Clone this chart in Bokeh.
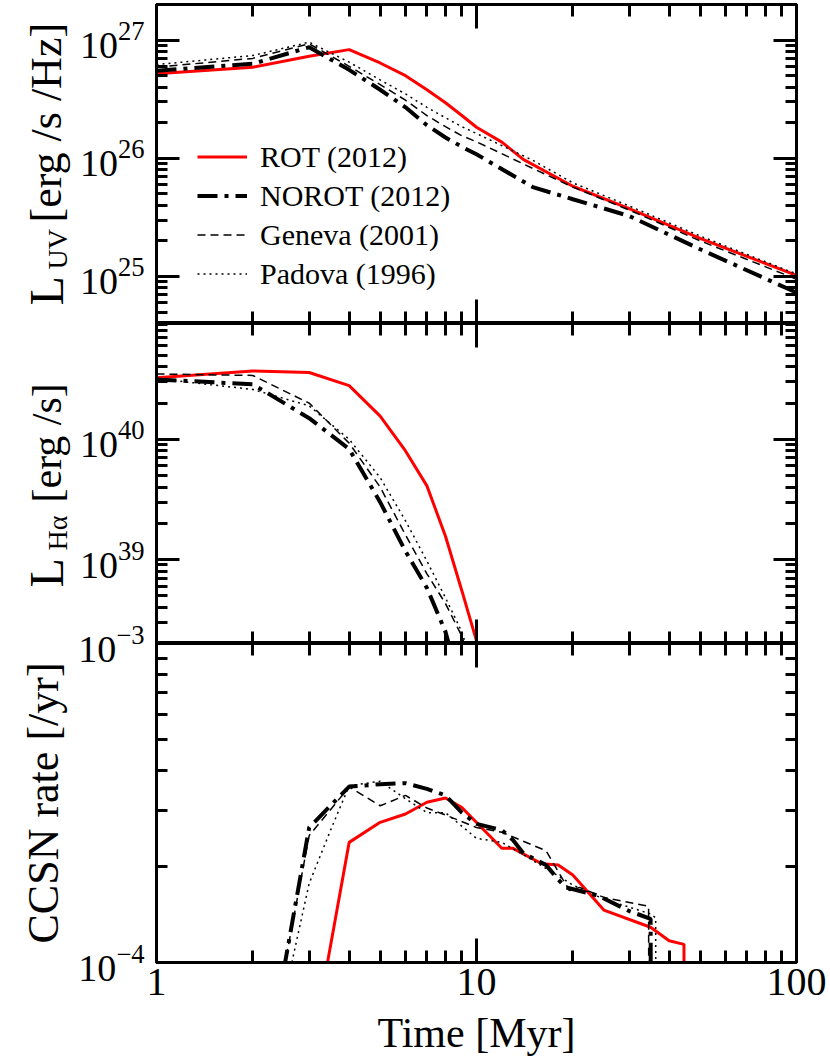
import math
from bokeh.plotting import figure
from bokeh.layouts import column, row
from bokeh.models import (FixedTicker, LogAxis, LogTickFormatter, BasicTickFormatter,
                          CustomJSTickFormatter, Legend, LegendItem, Range1d)
from bokeh.core.properties import value
from bokeh.embed import file_html
from bokeh.resources import INLINE

# ---------------- data ----------------
series_names = ["ROT (2012)", "NOROT (2012)", "Geneva (2001)", "Padova (1996)"]

# UV luminosity [erg/s/Hz]
t_uv_rot = [1, 2, 3, 4, 5, 6, 7, 8, 9, 10, 12, 14, 20, 30, 50, 100]
uv_rot = [5.2e26, 5.9e26, 7.3e26, 8.3e26, 6.4e26, 5.0e26, 3.8e26, 2.95e26, 2.3e26,
          1.83e26, 1.37e26, 9.8e25, 5.8e25, 3.75e25, 2.1e25, 1.02e25]
t_uv_oth = [1, 2, 3, 4, 5, 6, 7, 8, 9, 10, 15, 20, 30, 50, 100]
uv_norot = [5.5e26, 6.3e26, 8.7e26, 5.6e26, 3.8e26, 2.7e26, 1.9e26, 1.5e26, 1.25e26,
            1.08e26, 5.7e25, 4.5e25, 3.25e25, 1.7e25, 7.3e24]
uv_gen = [5.9e26, 7.0e26, 9.3e26, 6.0e26, 4.2e26, 3.1e26, 2.3e26, 1.85e26, 1.55e26,
          1.38e26, 8.2e25, 5.7e25, 3.65e25, 2.0e25, 9.5e24]
uv_pad = [6.2e26, 7.4e26, 9.6e26, 6.5e26, 4.6e26, 3.5e26, 2.7e26, 2.2e26, 1.85e26,
          1.62e26, 9.6e25, 6.2e25, 3.95e25, 2.2e25, 1.05e25]

# H-alpha luminosity [erg/s]
t_ha_rot = [1, 2, 3, 4, 5, 6, 7, 8, 9, 10, 11]
ha_rot = [3.25e40, 3.7e40, 3.6e40, 2.8e40, 1.56e40, 8.0e39, 4.1e39, 1.56e39, 5.5e38, 2.1e38, 3e37]
t_ha_norot = [1, 2, 3, 4, 5, 6, 7, 8, 9]
ha_norot = [3.15e40, 2.87e40, 1.5e40, 8.3e39, 3.0e39, 1.17e39, 5.8e38, 2.5e38, 8e37]
t_ha_oth = [1, 2, 3, 4, 5, 6, 7, 8, 9, 10]
ha_gen = [3.5e40, 3.4e40, 2.0e40, 9.3e39, 4.0e39, 1.6e39, 7.6e38, 4.3e38, 2.3e38, 9e37]
ha_pad = [3.2e40, 2.6e40, 1.9e40, 1.0e40, 4.8e39, 2.1e39, 9.7e38, 4.8e38, 2.5e38, 1e38]

# CCSN rate [/yr]
t_sn_rot = [3, 4, 5, 6, 7, 8, 9, 12, 13, 16, 18, 20, 25, 35, 40, 44.5, 45]
sn_rot = [4.8e-5, 2.38e-4, 2.75e-4, 2.92e-4, 3.18e-4, 3.28e-4, 3.06e-4, 2.28e-4, 2.28e-4,
          2.04e-4, 2.02e-4, 1.88e-4, 1.46e-4, 1.29e-4, 1.17e-4, 1.14e-4, 1e-6]
t_sn_norot = [2.5, 3, 4, 5, 6, 7, 8, 9, 10, 12, 13, 14, 16.5, 18, 19, 24, 30, 35, 35.5]
sn_norot = [9.5e-5, 2.65e-4, 3.56e-4, 3.62e-4, 3.65e-4, 3.5e-4, 3.34e-4, 2.95e-4, 2.72e-4,
            2.6e-4, 2.42e-4, 2.2e-4, 2.02e-4, 1.82e-4, 1.72e-4, 1.62e-4, 1.45e-4, 1.37e-4, 1e-6]
t_sn_gen = [2.5, 3, 4, 5, 6, 7, 8, 10, 12, 14, 16.5, 19.5, 21, 25, 34.5, 34.8]
sn_gen = [9.5e-5, 2.5e-4, 3.55e-4, 3.1e-4, 3.34e-4, 3.05e-4, 2.9e-4, 2.65e-4, 2.56e-4,
          2.4e-4, 2.24e-4, 1.68e-4, 1.72e-4, 1.6e-4, 1.5e-4, 1e-6]
t_sn_pad = [2.6, 3, 3.5, 4, 5, 6, 7, 8, 10, 12, 15, 20, 25, 35, 36.3, 36.6]
sn_pad = [9.2e-5, 1.77e-4, 2.6e-4, 3.58e-4, 3.7e-4, 3.26e-4, 2.95e-4, 2.95e-4, 2.45e-4,
          2.38e-4, 2.09e-4, 1.75e-4, 1.58e-4, 1.42e-4, 1.38e-4, 1e-6]

# axis ticks
x_major = [1, 10, 100]
x_minor = [m * 10 ** e for e in (0, 1) for m in range(2, 10)]
uv_major = [1e25, 1e26, 1e27]
uv_minor = [m * 10.0 ** e for e in (24, 25, 26, 27) for m in range(2, 10)]
ha_major = [1e38, 1e39, 1e40, 1e41]
ha_minor = [m * 10.0 ** e for e in (38, 39, 40) for m in range(2, 10)]
sn_major = [1e-4, 1e-3]
sn_minor = [m * 1e-4 for m in range(2, 10)]

# y-axis titles: (text, font size) pieces; subscripts are the small ones
ytitle_parts = [
    ("L", "48px"), ("UV", "28px"), ("[erg /s /Hz]", "44px"),
    ("L", "48px"), ("Hα", "28px"), ("[erg /s]", "42px"),
    ("CCSN rate [/yr]", "44px"),
]
# placement of each piece in the title strip (pixels from left, pixels from bottom)
ytitle_x = [46, 57, 46, 46, 57, 46, 43]
ytitle_y = [757, 793, 840, 475, 512, 560, 119]

FONT = "Liberation Serif"
TOTAL_H = 1062
STRIP_W = 100      # title strip width
OVERLAP = 30       # panels slide over the right part of the strip
PANEL_LEFT = 156 - STRIP_W + OVERLAP

styles = [
    dict(line_color="#ff0000", line_width=3),
    dict(line_color="black", line_width=4, line_dash="20 7 4 7"),
    dict(line_color="black", line_width=1.5, line_dash="8 5"),
    dict(line_color="black", line_width=1.5, line_dash="2 4"),
]


def style_axis(ax, major_in, minor_in):
    ax.major_tick_in = major_in
    ax.major_tick_out = 0
    ax.minor_tick_in = minor_in
    ax.minor_tick_out = 0
    ax.axis_line_width = 3
    ax.axis_line_color = "black"
    ax.major_tick_line_width = 3
    ax.minor_tick_line_width = 3
    ax.major_tick_line_color = "black"
    ax.minor_tick_line_color = "black"


def blank(ax):
    ax.formatter = CustomJSTickFormatter(code="return ''")
    ax.major_label_text_font_size = "0px"
    ax.major_label_standoff = 0
    ax.axis_label = None


def make_panel(yr, frame_h, top, bottom, ymaj, ymin, xlabels):
    p = figure(frame_width=640, frame_height=frame_h,
               x_axis_type="log", y_axis_type="log",
               x_range=Range1d(1, 100), y_range=Range1d(*yr),
               x_axis_location=None, y_axis_location=None,
               min_border_left=PANEL_LEFT, min_border_right=34,
               min_border_top=top, min_border_bottom=bottom,
               output_backend="svg", toolbar_location=None)
    for g in p.grid:
        g.visible = False
    p.outline_line_color = "black"
    p.outline_line_width = 3
    p.border_fill_color = None
    p.background_fill_color = "white"

    for side in ("below", "above"):
        ax = LogAxis(ticker=FixedTicker(ticks=x_major, minor_ticks=x_minor))
        style_axis(ax, 24, 12)
        if side == "below" and xlabels:
            ax.formatter = BasicTickFormatter()
            ax.major_label_text_font = FONT
            ax.major_label_text_font_size = "40px"
            ax.major_label_text_color = "black"
            ax.major_label_standoff = 6
            ax.axis_label = "Time [Myr]"
            ax.axis_label_text_font = FONT
            ax.axis_label_text_font_size = "42px"
            ax.axis_label_text_font_style = "normal"
            ax.axis_label_text_color = "black"
            ax.axis_label_standoff = 12
        else:
            blank(ax)
        p.add_layout(ax, side)

    for side in ("left", "right"):
        ax = LogAxis(ticker=FixedTicker(ticks=ymaj, minor_ticks=ymin))
        style_axis(ax, 23, 11)
        if side == "left":
            ax.formatter = LogTickFormatter()
            ax.major_label_text_font = FONT
            ax.major_label_text_font_size = "38px"
            ax.major_label_text_color = "black"
            ax.major_label_standoff = 12
        else:
            blank(ax)
        p.add_layout(ax, side)
    return p


# ---------------- panel 1: UV ----------------
p1 = make_panel((4e24, 2e27), 319, 4, 0, uv_major, uv_minor, False)
uv_sets = [(t_uv_rot, uv_rot), (t_uv_oth, uv_norot), (t_uv_oth, uv_gen), (t_uv_oth, uv_pad)]
rends = []
for (tx, vy), st in zip(uv_sets, styles):
    rends.append(p1.line(tx, vy, **st))
legend = Legend(items=[LegendItem(label=n, renderers=[r]) for n, r in zip(series_names, rends)],
                location=(41, 30), label_text_font=FONT, label_text_font_size="30px",
                label_text_color="black", glyph_width=50, glyph_height=39, label_height=39,
                label_standoff=13, spacing=0, padding=0, margin=0,
                border_line_color=None, background_fill_alpha=0)
p1.add_layout(legend)

# ---------------- panel 2: H alpha ----------------
p2 = make_panel((2e38, 9.2e40), 320, 0, 0, ha_major, ha_minor, False)
ha_sets = [(t_ha_rot, ha_rot), (t_ha_norot, ha_norot), (t_ha_oth, ha_gen), (t_ha_oth, ha_pad)]
for (tx, vy), st in zip(ha_sets, styles):
    p2.line(tx, vy, **st)

# ---------------- panel 3: CCSN rate ----------------
p3 = make_panel((1e-4, 1e-3), 319, 30, 100, sn_major, sn_minor, True)
p3.margin = (-30, 0, 0, 0)
sn_sets = [(t_sn_rot, sn_rot), (t_sn_norot, sn_norot), (t_sn_gen, sn_gen), (t_sn_pad, sn_pad)]
for (tx, vy), st in zip(sn_sets, styles):
    p3.line(tx, vy, **st)

# ---------------- strip holding the rotated y-axis titles ----------------
strip = figure(width=STRIP_W, height=TOTAL_H, x_range=Range1d(0, STRIP_W),
               y_range=Range1d(0, TOTAL_H), min_border=0,
               x_axis_location=None, y_axis_location=None,
               output_backend="svg", toolbar_location=None)
strip.grid.visible = False
strip.outline_line_color = None
strip.border_fill_color = None
strip.background_fill_color = None
for (txt, size), sx, sy in zip(ytitle_parts, ytitle_x, ytitle_y):
    strip.text(x=[sx], y=[sy], text=[txt], angle=math.pi / 2,
               text_font=value(FONT), text_font_size=size, text_color="black",
               text_align="left", text_baseline="alphabetic")

panels = column(p1, p2, p3, spacing=0, margin=(0, 0, 0, -OVERLAP))
layout = row(strip, panels, spacing=0)

open("out.html", "w").write(file_html(layout, INLINE))
